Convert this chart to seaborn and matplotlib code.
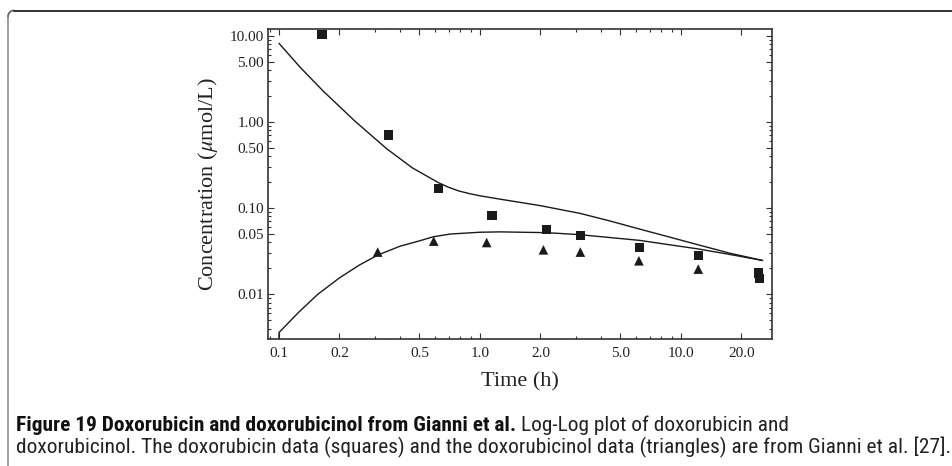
import numpy as np
import pandas as pd
import matplotlib
matplotlib.use("Agg")
import matplotlib.pyplot as plt
from matplotlib.lines import Line2D
import matplotlib.ticker as mticker
from matplotlib import font_manager
import seaborn as sns

# ---- data ----
dox_t = [0.164, 0.35, 0.62, 1.15, 2.14, 3.16, 6.2, 12.2, 24.3, 24.6]
dox_c = [10.3, 0.706, 0.169, 0.082, 0.056, 0.048, 0.0349, 0.0282, 0.0177, 0.0152]

dol_t = [0.31, 0.589, 1.08, 2.07, 3.16, 6.18, 12.2]
dol_c = [0.0309, 0.0414, 0.0399, 0.0328, 0.0309, 0.0245, 0.0196]

dox_fit_t = [0.1, 0.128, 0.166, 0.239, 0.343, 0.46, 0.55, 0.62, 0.70, 0.786, 0.89, 1.0, 1.26, 1.99,
             3.14, 4.43, 6.25, 8.82, 12.2, 17.5, 25.5]
dox_fit_c = [8.17, 4.26, 2.28, 1.02, 0.49, 0.294, 0.232, 0.198, 0.174, 0.158, 0.147, 0.139, 0.127, 0.107,
             0.087, 0.071, 0.057, 0.046, 0.0375, 0.030, 0.0247]

dol_fit_t = [0.1, 0.1, 0.125, 0.156, 0.2, 0.25, 0.31, 0.4, 0.5, 0.586, 0.71, 1.0, 1.26,
             2.15, 3.14, 6.25, 8.82, 12.2, 17.5, 25.5]
dol_fit_c = [0.0025, 0.0036, 0.00615, 0.0100, 0.0155, 0.0217, 0.0285, 0.0361, 0.0417,
             0.0465, 0.050, 0.0525, 0.053, 0.0519, 0.0492, 0.0422, 0.0375, 0.0336, 0.029, 0.0247]

x_major = [0.1, 0.2, 0.5, 1.0, 2.0, 5.0, 10.0, 20.0]
x_labels = ["0.1", "0.2", "0.5", "1.0", "2.0", "5.0", "10.0", "20.0"]
y_major = [0.01, 0.05, 0.10, 0.50, 1.00, 5.00, 10.00]
y_labels = ["0.01", "0.05", "0.10", "0.50", "1.00", "5.00", "10.00"]

sns.set_style("ticks")
plt.rcParams["font.family"] = ["Liberation Serif", "DejaVu Serif"]
plt.rcParams["mathtext.fontset"] = "stix"

W, H = 953, 466
fig = plt.figure(figsize=(W / 100, H / 100), dpi=100)
ax = fig.add_axes([268 / W, 1 - 339 / H, (772 - 268) / W, (339 - 29) / H])

dfd = pd.DataFrame({"t": dox_fit_t, "c": dox_fit_c})
dfl = pd.DataFrame({"t": dol_fit_t, "c": dol_fit_c})
sns.lineplot(data=dfd, x="t", y="c", sort=False, estimator=None, color="#1a1a1a", lw=1.0, ax=ax)
sns.lineplot(data=dfl, x="t", y="c", sort=False, estimator=None, color="#1a1a1a", lw=1.0, ax=ax)

sq = pd.DataFrame({"t": dox_t, "c": dox_c})
tr = pd.DataFrame({"t": dol_t, "c": dol_c})
sns.scatterplot(data=sq, x="t", y="c", marker="s", s=45, color="#1a1a1a", edgecolor="none", ax=ax, zorder=3)
sns.scatterplot(data=tr, x="t", y="c", marker="^", s=48, color="#1a1a1a", edgecolor="none", ax=ax, zorder=3)

ax.set_xscale("log")
ax.set_yscale("log")
ax.set_xlim(0.0882, 28.4)
ax.set_ylim(0.00303, 11.97)

x_minor = [m * d for d in (0.01, 0.1, 1.0, 10.0) for m in range(1, 10)]
x_minor = [v for v in x_minor if 0.0882 <= v <= 28.4 and not any(abs(v - a) < 1e-9 for a in x_major)]
y_minor = [m * d for d in (0.001, 0.01, 0.1, 1.0, 10.0) for m in range(1, 10)]
y_minor = [v for v in y_minor if 0.00303 <= v <= 11.97 and not any(abs(v - a) < 1e-9 for a in y_major)]

ax.xaxis.set_major_locator(mticker.FixedLocator(x_major))
ax.xaxis.set_major_formatter(mticker.FixedFormatter(x_labels))
ax.xaxis.set_minor_locator(mticker.FixedLocator(x_minor))
ax.xaxis.set_minor_formatter(mticker.NullFormatter())
ax.yaxis.set_major_locator(mticker.FixedLocator(y_major))
ax.yaxis.set_major_formatter(mticker.FixedFormatter(y_labels))
ax.yaxis.set_minor_locator(mticker.FixedLocator(y_minor))
ax.yaxis.set_minor_formatter(mticker.NullFormatter())

for s in ax.spines.values():
    s.set_visible(True)
    s.set_color("#333333")
    s.set_linewidth(1.2)
ax.tick_params(which="both", direction="in", top=True, right=True, color="#333333",
               labelsize=11, labelcolor="#222222", width=0.8)
ax.tick_params(which="major", length=4)
ax.tick_params(which="minor", length=2)
ax.tick_params(axis="x", which="major", pad=6)
ax.tick_params(axis="y", which="major", pad=3)

ax.set_xlabel("Time (h)", fontsize=16, color="#222222")
ax.set_ylabel(r"Concentration ($\mu$mol/L)", fontsize=16, color="#222222")
ax.xaxis.label.set_va("center")
ax.xaxis.set_label_coords(0.5, -(382 - 339) / 310)
ax.yaxis.label.set_va("center")
ax.yaxis.set_label_coords(-(268 - 208) / 504, 0.5)

# ---- caption ----
avail = {f.name for f in font_manager.fontManager.ttflist}
cands = ["Liberation Sans Narrow", "Roboto Condensed", "Open Sans Condensed", "Lato"]
cap_font = next((c for c in cands if c in avail), "DejaVu Sans")
cap_family = [cap_font, "DejaVu Sans"]
line2 = "doxorubicinol. The doxorubicin data (squares) and the doxorubicinol data (triangles) are from Gianni et al. [27]."
fig.canvas.draw()
r = fig.canvas.get_renderer()
probe = fig.text(0, 0, line2, fontsize=10, family=cap_family)
wp = probe.get_window_extent(r).width
probe.remove()
fs = 10 * 928 / wp

t1 = fig.text(16 / W, 1 - 431 / H, "Figure 19 Doxorubicin and doxorubicinol from Gianni et al.",
              fontsize=fs, family=cap_family, weight="semibold", color="#111111")
fig.canvas.draw()
bb = t1.get_window_extent(r)
fig.text((bb.x1 + fs * 0.3) / W, 1 - 431 / H, "Log-Log plot of doxorubicin and",
         fontsize=fs, family=cap_family, color="#222222")
fig.text(16 / W, 1 - 453 / H, line2, fontsize=fs, family=cap_family, color="#222222")

# ---- frame (top and left border with rounded corner) ----
rad = 6
ang = np.linspace(np.pi, np.pi / 2, 12)
cx, cy = 8 + rad, 10.5 + rad
arc_x = cx + rad * np.cos(ang)
arc_y = cy - rad * np.sin(ang)
fig.add_artist(Line2D([8 / W, 8 / W], [0, 1 - cy / H], transform=fig.transFigure, color="#9a9a9a", lw=1.3))
fig.add_artist(Line2D(arc_x / W, 1 - arc_y / H, transform=fig.transFigure, color="#666666", lw=1.3))
fig.add_artist(Line2D([cx / W, 1], [1 - 10.5 / H, 1 - 10.5 / H], transform=fig.transFigure, color="#222222", lw=1.3))

fig.savefig("out.png", dpi=100)
